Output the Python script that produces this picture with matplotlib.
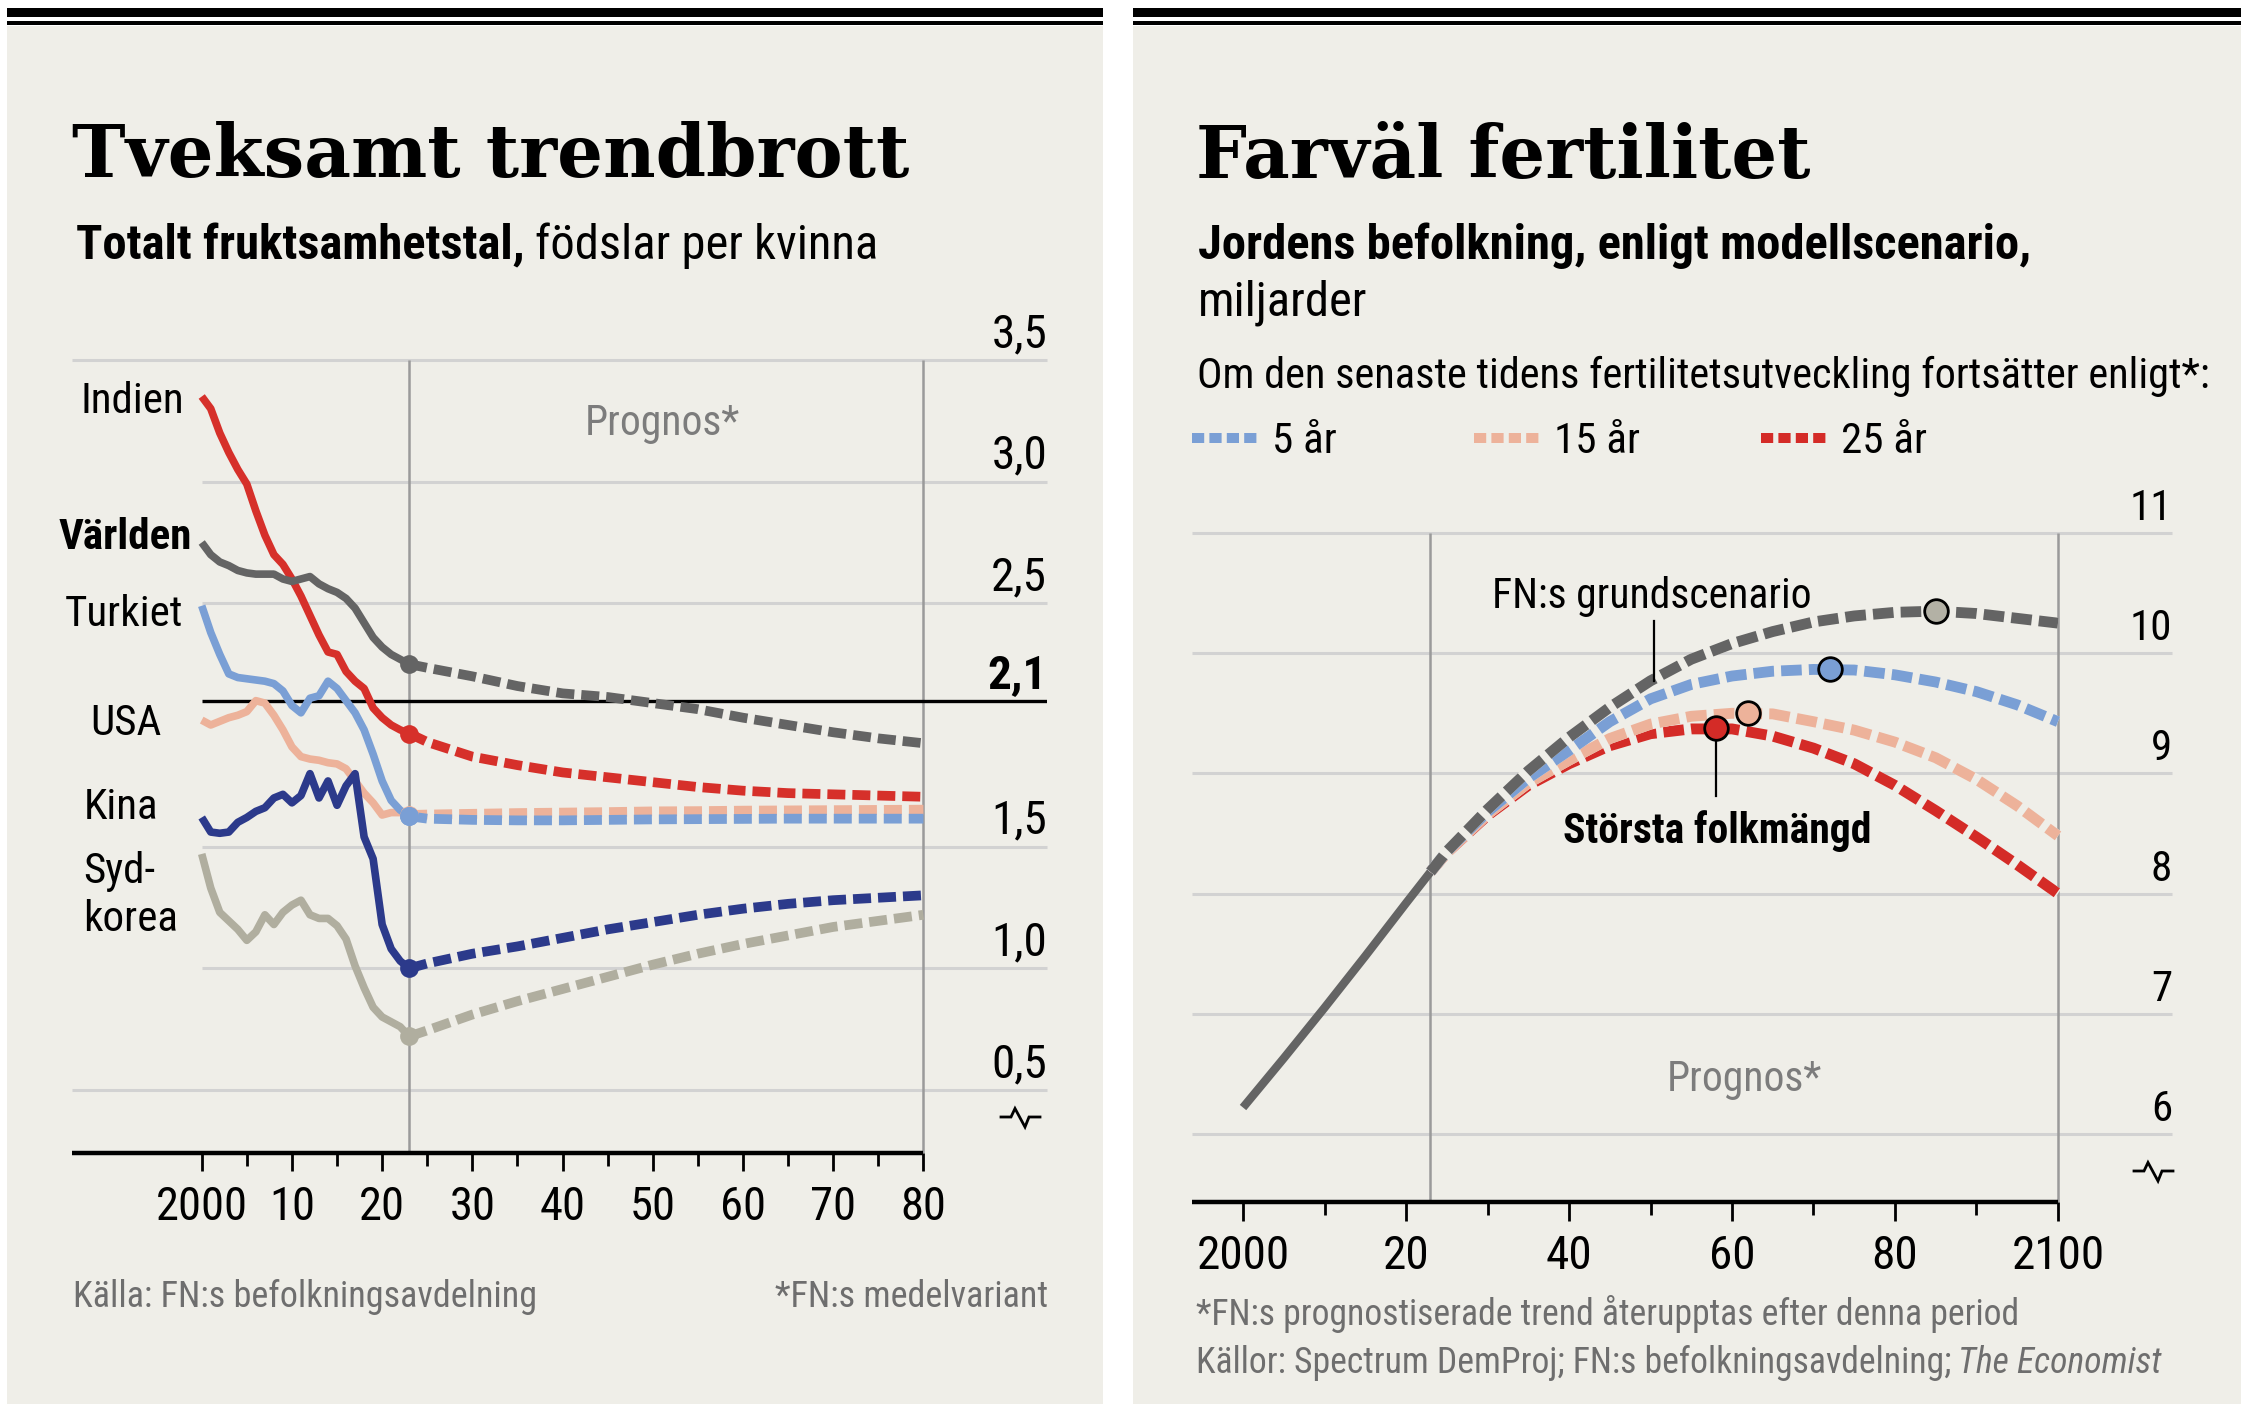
import matplotlib
matplotlib.use('Agg')
import matplotlib.pyplot as plt
from matplotlib.lines import Line2D
from matplotlib.patches import Rectangle
import matplotlib.transforms as mtransforms

# -- data ---------------------------------------------------------------
hist_years = list(range(2000, 2024))
proj_years = [2023, 2025, 2030, 2035, 2040, 2045, 2050, 2055, 2060, 2065,
              2070, 2075, 2080]

india_hist = [3.35, 3.30, 3.20, 3.12, 3.05, 2.99, 2.88, 2.78, 2.70, 2.66,
              2.60, 2.53, 2.45, 2.37, 2.30, 2.29, 2.22, 2.18, 2.15, 2.07,
              2.03, 2.00, 1.98, 1.965]
india_proj = [1.965, 1.93, 1.87, 1.835, 1.805, 1.785, 1.765, 1.745, 1.73,
              1.72, 1.715, 1.71, 1.705]

world_hist = [2.75, 2.70, 2.67, 2.655, 2.635, 2.625, 2.62, 2.62, 2.62, 2.60,
              2.59, 2.60, 2.61, 2.58, 2.56, 2.545, 2.52, 2.48, 2.42, 2.36,
              2.32, 2.29, 2.27, 2.25]
world_proj = [2.25, 2.235, 2.20, 2.16, 2.13, 2.115, 2.09, 2.065, 2.03, 2.00,
              1.97, 1.945, 1.925]

turkey_hist = [2.49, 2.38, 2.29, 2.21, 2.195, 2.19, 2.185, 2.18, 2.17, 2.14,
               2.08, 2.05, 2.11, 2.12, 2.18, 2.15, 2.10, 2.05, 1.98, 1.88,
               1.77, 1.69, 1.65, 1.625]
turkey_proj = [1.625, 1.615, 1.61, 1.608, 1.608, 1.61, 1.612, 1.613, 1.614,
               1.615, 1.615, 1.615, 1.615]

usa_hist = [2.02, 2.00, 2.015, 2.03, 2.04, 2.055, 2.10, 2.09, 2.04, 1.98,
            1.91, 1.87, 1.86, 1.855, 1.845, 1.84, 1.82, 1.77, 1.72, 1.68,
            1.63, 1.64, 1.64, 1.63]
usa_proj = [1.63, 1.632, 1.635, 1.638, 1.64, 1.642, 1.645, 1.646, 1.648,
            1.649, 1.65, 1.651, 1.652]

china_hist = [1.62, 1.56, 1.555, 1.56, 1.60, 1.62, 1.645, 1.66, 1.70, 1.715,
              1.68, 1.71, 1.80, 1.70, 1.77, 1.67, 1.75, 1.80, 1.54, 1.45,
              1.18, 1.08, 1.03, 1.00]
china_proj = [1.00, 1.02, 1.06, 1.09, 1.125, 1.16, 1.19, 1.22, 1.245, 1.265,
              1.28, 1.29, 1.30]

korea_hist = [1.47, 1.33, 1.23, 1.195, 1.16, 1.115, 1.15, 1.22, 1.18, 1.23,
              1.26, 1.28, 1.22, 1.205, 1.205, 1.175, 1.12, 1.01, 0.92, 0.84,
              0.80, 0.78, 0.76, 0.72]
korea_proj = [0.72, 0.745, 0.81, 0.865, 0.915, 0.965, 1.015, 1.06, 1.10,
              1.135, 1.17, 1.195, 1.22]

fert_grid_full = [3.5, 0.5]
fert_grid_short = [3.0, 2.5, 1.5, 1.0]
fert_ylabels = [3.5, 3.0, 2.5, 1.5, 1.0, 0.5]
replacement = 2.1
fert_xticks = [2000, 2010, 2020, 2030, 2040, 2050, 2060, 2070, 2080]
fert_xticklabels = ['2000', '10', '20', '30', '40', '50', '60', '70', '80']

pop_hist_years = [2000, 2005, 2010, 2015, 2020, 2023]
pop_hist = [6.22, 6.63, 7.05, 7.48, 7.92, 8.18]
scen_years = [2023, 2025, 2030, 2035, 2040, 2045, 2050, 2055, 2060, 2065,
              2070, 2075, 2080, 2085, 2090, 2095, 2100]
un_base = [8.18, 8.35, 8.70, 9.02, 9.30, 9.55, 9.77, 9.95, 10.08, 10.18,
           10.26, 10.31, 10.34, 10.35, 10.33, 10.29, 10.25]
fert5 = [8.18, 8.35, 8.68, 8.96, 9.19, 9.43, 9.62, 9.74, 9.81, 9.85,
         9.865, 9.86, 9.82, 9.76, 9.68, 9.57, 9.43]
fert15 = [8.18, 8.34, 8.66, 8.92, 9.11, 9.29, 9.41, 9.475, 9.50, 9.495,
          9.43, 9.36, 9.26, 9.13, 8.95, 8.73, 8.48]
fert25 = [8.18, 8.34, 8.65, 8.90, 9.08, 9.23, 9.33, 9.37, 9.37, 9.31,
          9.21, 9.08, 8.90, 8.69, 8.47, 8.24, 8.00]
peak_years = [2085, 2072, 2062, 2058]
peak_vals = [10.35, 9.865, 9.505, 9.38]
pop_grid = [11, 10, 9, 8, 7, 6]
pop_xticks = [2000, 2020, 2040, 2060, 2080, 2100]
pop_xticklabels = ['2000', '20', '40', '60', '80', '2100']

# -- style ----------------------------------------------------------------
W, H = 2246, 1410
SANS = ['Roboto Condensed', 'Liberation Sans Narrow', 'DejaVu Sans']
SERIF = ['DejaVu Serif']
plt.rcParams['font.family'] = SANS

BG = '#efeee8'
GRID = '#d2d2d2'
VLINE = '#9a9a9a'
GREYTXT = '#6e6e6e'
C_IND = '#d6302a'
C_RED = '#d42b27'
C_WLD = '#646464'
C_TUR = '#7a9fd5'
C_USA = '#edb29a'
C_CHN = '#2c3a8b'
C_KOR = '#b0ae9f'
C_PEAK_GREY = '#b3b1a5'

fig = plt.figure(figsize=(W / 100, H / 100), dpi=100)
fig.patch.set_facecolor('white')
renderer = fig.canvas.get_renderer()


def box(x0, y0, x1, y1):
    return [x0 / W, 1 - y1 / H, (x1 - x0) / W, (y1 - y0) / H]


def T(x, y, s, **kw):
    return fig.text(x / W, 1 - y / H, s, **kw)


def fit(t, target):
    # scale a text so that its rendered width matches the reference
    w = t.get_window_extent(renderer).width
    t.set_fontsize(t.get_fontsize() * target / w)


def rect(x0, y0, x1, y1, color):
    fig.add_artist(Rectangle((x0 / W, 1 - y1 / H), (x1 - x0) / W,
                             (y1 - y0) / H, transform=fig.transFigure,
                             color=color, lw=0, zorder=0))


def brk(x0, y0):
    # small zigzag axis-break sign, drawn in pixels
    dx = [0, 10, 14, 24, 28, 39]
    dy = [0, 0, -8.5, 10, 0, 0]
    fig.add_artist(Line2D([(x0 + a) / W for a in dx],
                          [1 - (y0 + b) / H for b in dy],
                          transform=fig.transFigure, color='black', lw=2.0,
                          solid_joinstyle='miter'))


# panels and top rules
for x0, x1 in [(7, 1103), (1133, 2241)]:
    rect(x0, 26, x1, 1404, BG)
    rect(x0, 8, x1, 16.8, 'black')
    rect(x0, 21.5, x1, 25, 'black')

# ======================= left panel ======================================
tt = T(72, 177, 'Tveksamt trendbrott', family=SERIF, weight='bold',
       fontsize=50, va='baseline')
fit(tt, 838)
t1 = T(76, 259, 'Totalt fruktsamhetstal,', weight='bold', fontsize=35,
       va='baseline')
bb = t1.get_window_extent(renderer)
T(bb.x1 + 10, 259, 'födslar per kvinna', fontsize=35, va='baseline')

axL = fig.add_axes(box(72, 360, 1047, 1153))
xl0, xl1 = 1985.62, 2093.7
yl0, yl1 = 0.241, 3.5
axL.set_xlim(xl0, xl1)
axL.set_ylim(yl0, yl1)
axL.patch.set_visible(False)
for s in axL.spines.values():
    s.set_visible(False)

axL.hlines(fert_grid_full, xl0, xl1, color=GRID, lw=2.2, clip_on=False,
           zorder=1)
axL.hlines(fert_grid_short, 2000, xl1, color=GRID, lw=2.2, clip_on=False,
           zorder=1)
axL.hlines([replacement], 2000, xl1, color='black', lw=2.4, zorder=2)
axL.vlines([2023, 2080], yl0, yl1, color=VLINE, lw=1.8, zorder=1,
           clip_on=False)
axL.plot([xl0, 2080], [yl0, yl0], color='black', lw=3.2, clip_on=False,
         solid_capstyle='butt', zorder=5)

axL.set_xticks(fert_xticks)
axL.set_xticklabels(fert_xticklabels)
axL.set_xticks([y + 5 for y in fert_xticks[:-1]], minor=True)
axL.set_yticks([])
axL.tick_params(axis='x', which='major', length=13, width=2, pad=10,
                labelsize=33.5, color='black')
axL.tick_params(axis='x', which='minor', length=9, width=2, color='black')

yoff = mtransforms.offset_copy(
    mtransforms.blended_transform_factory(axL.transAxes, axL.transData),
    fig=fig, y=13, units='dots')
for v in fert_ylabels:
    axL.text(1.0, v, ('%.1f' % v).replace('.', ','), transform=yoff,
             ha='right', va='baseline', fontsize=34)
axL.text(1.0, replacement, '2,1', transform=yoff, ha='right',
         va='baseline', fontsize=34, weight='bold')

series = [
    (korea_hist, korea_proj, C_KOR),
    (usa_hist, usa_proj, C_USA),
    (turkey_hist, turkey_proj, C_TUR),
    (china_hist, china_proj, C_CHN),
    (india_hist, india_proj, C_IND),
    (world_hist, world_proj, C_WLD),
]
for i, (hv, pv, col) in enumerate(series):
    z = 3 + i * 0.1
    axL.plot(hist_years, hv, color=col, lw=5.5, solid_joinstyle='round',
             solid_capstyle='butt', zorder=z)
    axL.plot(proj_years, pv, color=col, lw=7.0, dashes=(1.85, 0.72),
             dash_capstyle='butt', zorder=z)
for hv, pv, col in series:
    axL.plot([hist_years[-1]], [hv[-1]], 'o', color=col, ms=13.5, mew=0,
             zorder=4)
# turkey dot on top of usa dot
axL.plot([hist_years[-1]], [turkey_hist[-1]], 'o', color=C_TUR, ms=13.5,
         mew=0, zorder=4.1)

axL.text(2051.1, 3.19, 'Prognos*', ha='center', va='baseline', fontsize=30,
         color='#7c7c7c')
lab = dict(ha='right', va='baseline', fontsize=31)
axL.text(1998.1, 3.282, 'Indien', **lab)
axL.text(1998.9, 2.723, 'Världen', weight='bold', **lab)
axL.text(1997.9, 2.407, 'Turkiet', **lab)
axL.text(1995.5, 1.957, 'USA', **lab)
axL.text(1995.2, 1.614, 'Kina', **lab)
axL.text(1986.9, 1.35, 'Syd-', ha='left', va='baseline', fontsize=31)
axL.text(1986.9, 1.153, 'korea', ha='left', va='baseline', fontsize=31)

brk(1001, 1117)

T(73, 1307, 'Källa: FN:s befolkningsavdelning', fontsize=26,
  color=GREYTXT, va='baseline')
T(1048, 1307, '*FN:s medelvariant', fontsize=26, color=GREYTXT,
  va='baseline', ha='right')

# ======================= right panel =====================================
tr = T(1196, 178, 'Farväl fertilitet', family=SERIF, weight='bold',
       fontsize=50, va='baseline')
fit(tr, 614)
T(1198, 259, 'Jordens befolkning, enligt modellscenario,', weight='bold',
  fontsize=35, va='baseline')
T(1198, 316, 'miljarder', fontsize=35, va='baseline')
T(1197, 388, 'Om den senaste tidens fertilitetsutveckling fortsätter enligt*:',
  fontsize=30.5, va='baseline')

legend_items = [('5 år', C_TUR, 1192), ('15 år', C_USA, 1474),
                ('25 år', C_RED, 1761)]
for text, col, lx in legend_items:
    fig.add_artist(Line2D([lx / W, (lx + 66) / W], [1 - 438 / H] * 2,
                          transform=fig.transFigure, color=col, lw=7.2,
                          dashes=(1.22, 0.52), dash_capstyle='butt'))
    T(lx + 80, 453, text, fontsize=31, va='baseline')

axR = fig.add_axes(box(1192, 533, 2172, 1202))
xr0, xr1 = 1993.74, 2113.99
yr0, yr1 = 5.434, 11.0
axR.set_xlim(xr0, xr1)
axR.set_ylim(yr0, yr1)
axR.patch.set_visible(False)
for s in axR.spines.values():
    s.set_visible(False)

axR.hlines(pop_grid, xr0, xr1, color=GRID, lw=2.2, clip_on=False, zorder=1)
axR.vlines([2023, 2100], yr0, yr1, color=VLINE, lw=1.8, zorder=1,
           clip_on=False)
axR.plot([xr0, 2100], [yr0, yr0], color='black', lw=3.2, clip_on=False,
         solid_capstyle='butt', zorder=5)
axR.set_xticks(pop_xticks)
axR.set_xticklabels(pop_xticklabels)
axR.set_xticks([y + 10 for y in pop_xticks[:-1]], minor=True)
axR.set_yticks([])
axR.tick_params(axis='x', which='major', length=14, width=2, pad=9,
                labelsize=34, color='black')
axR.tick_params(axis='x', which='minor', length=9.5, width=2, color='black')

yoffR = mtransforms.offset_copy(
    mtransforms.blended_transform_factory(axR.transAxes, axR.transData),
    fig=fig, y=13, units='dots')
for v in pop_grid:
    axR.text(1.0, v, '%d' % v, transform=yoffR, ha='right', va='baseline',
             fontsize=31)

axR.plot(pop_hist_years, pop_hist, color=C_WLD, lw=6.0,
         solid_capstyle='butt', zorder=3)
scen = [(fert25, C_RED), (fert15, C_USA), (fert5, C_TUR), (un_base, C_WLD)]
for i, (vals, col) in enumerate(scen):
    z = 3 + i * 0.2
    axR.plot(scen_years, vals, color=BG, lw=7.8, solid_capstyle='butt',
             zorder=z)
    axR.plot(scen_years, vals, color=col, lw=7.8, dashes=(1.9, 0.66),
             dash_capstyle='butt', zorder=z + 0.1)

peak_cols = [C_PEAK_GREY, C_TUR, C_USA, C_RED]
for yv, pv, col in zip(peak_years, peak_vals, peak_cols):
    axR.plot([yv], [pv], 'o', ms=17, mfc=col, mec='black', mew=2.0,
             zorder=6)

axR.text(2050.2, 10.376, 'FN:s grundscenario', ha='center', va='baseline',
         fontsize=30)
axR.plot([2050.4, 2050.4], [10.27, 9.77], color='black', lw=1.6, zorder=5)
axR.text(2058.2, 8.424, 'Största folkmängd', ha='center', va='baseline',
         fontsize=30, weight='bold')
axR.plot([2058, 2058], [9.38, 8.815], color='black', lw=1.6, zorder=5)
axR.text(2061.5, 6.357, 'Prognos*', ha='center', va='baseline',
         fontsize=30, color='#7c7c7c')

brk(2134, 1171)

T(1196, 1325, '*FN:s prognostiserade trend återupptas efter denna period',
  fontsize=25.7, color=GREYTXT, va='baseline')
t2 = T(1196, 1373, 'Källor: Spectrum DemProj; FN:s befolkningsavdelning;',
       fontsize=25.7, color=GREYTXT, va='baseline')
bb = t2.get_window_extent(renderer)
T(bb.x1 + 7, 1373, 'The Economist', fontsize=25.7, color=GREYTXT,
  va='baseline', style='italic')

fig.savefig('out.png', dpi=100, facecolor='white')
